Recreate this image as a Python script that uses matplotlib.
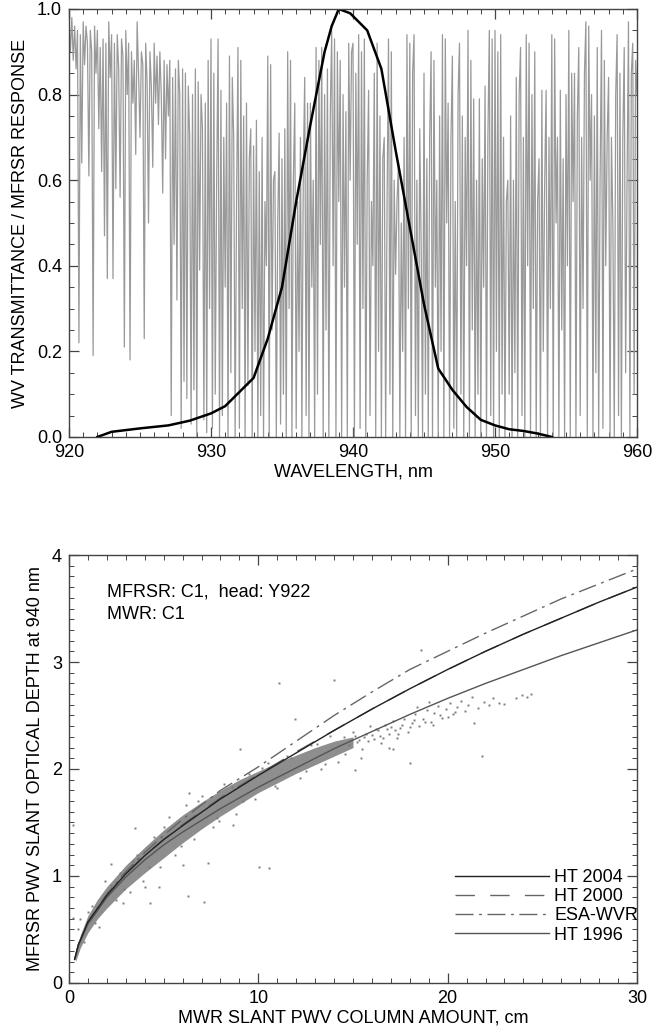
import matplotlib
matplotlib.use("Agg")
import matplotlib.pyplot as plt
from matplotlib.ticker import MultipleLocator, FormatStrFormatter
import numpy as np

plt.rcParams['font.family'] = ['Liberation Sans', 'DejaVu Sans']
plt.rcParams['font.size'] = 13

# ---- top panel: water vapour transmittance, sampled every 0.1 nm from 920 nm
t_920 = [0.97, 0.90, 0.98, 0.88, 0.96, 0.86, 0.95, 0.22, 0.94, 0.64,
         0.97, 0.87, 0.96, 0.92, 0.61, 0.95, 0.90, 0.19, 0.96, 0.85,
         0.95, 0.72, 0.91, 0.62, 0.93, 0.47, 0.92, 0.37, 0.97, 0.84,
         0.94, 0.37, 0.92, 0.58, 0.94, 0.86, 0.56, 0.93, 0.89, 0.21,
         0.95, 0.80, 0.92, 0.18, 0.90, 0.78, 0.88, 0.66, 0.97, 0.85,
         0.70, 0.90, 0.87, 0.23, 0.92, 0.83, 0.50, 0.90, 0.82, 0.63,
         0.92, 0.78, 0.89, 0.73, 0.90, 0.80, 0.57, 0.88, 0.65, 0.87,
         0.75, 0.88, 0.05, 0.84, 0.45, 0.86, 0.32, 0.88, 0.80, 0.02,
         0.86, 0.13, 0.85, 0.09, 0.82, 0.70, 0.03, 0.80, 0.11, 0.86,
         0.00, 0.83, 0.39, 0.80, 0.72, 0.04, 0.78, 0.01, 0.88, 0.30]
t_930 = [0.93, 0.02, 0.85, 0.10, 0.60, 0.93, 0.00, 0.81, 0.05, 0.70,
         0.35, 0.78, 0.00, 0.89, 0.15, 0.84, 0.70, 0.00, 0.55, 0.91,
         0.02, 0.88, 0.30, 0.75, 0.00, 0.78, 0.12, 0.65, 0.72, 0.00,
         0.68, 0.20, 0.74, 0.00, 0.62, 0.05, 0.70, 0.00, 0.55, 0.40,
         0.89, 0.00, 0.87, 0.25, 0.60, 0.62, 0.00, 0.50, 0.71, 0.03,
         0.65, 0.10, 0.72, 0.00, 0.90, 0.30, 0.88, 0.00, 0.60, 0.78,
         0.02, 0.55, 0.20, 0.70, 0.00, 0.62, 0.84, 0.05, 0.78, 0.00,
         0.78, 0.35, 0.60, 0.00, 0.91, 0.10, 0.88, 0.45, 0.91, 0.00,
         0.80, 0.25, 0.86, 0.00, 0.75, 0.95, 0.40, 0.93, 0.00, 0.90,
         0.55, 0.88, 0.00, 0.80, 0.35, 0.76, 0.00, 0.92, 0.60, 0.90]
t_940 = [0.92, 0.00, 0.85, 0.45, 0.94, 0.02, 0.90, 0.30, 0.93, 0.00,
         0.60, 0.81, 0.05, 0.55, 0.40, 0.85, 0.00, 0.92, 0.20, 0.75,
         0.00, 0.65, 0.70, 0.00, 0.55, 0.93, 0.10, 0.90, 0.00, 0.60,
         0.38, 0.55, 0.64, 0.00, 0.50, 0.20, 0.70, 0.00, 0.94, 0.30,
         0.92, 0.00, 0.85, 0.94, 0.05, 0.60, 0.00, 0.72, 0.45, 0.00,
         0.85, 0.10, 0.65, 0.00, 0.70, 0.90, 0.00, 0.88, 0.35, 0.60,
         0.00, 0.75, 0.20, 0.94, 0.00, 0.93, 0.50, 0.78, 0.00, 0.70,
         0.89, 0.02, 0.55, 0.00, 0.80, 0.92, 0.10, 0.75, 0.00, 0.70,
         0.40, 0.95, 0.00, 0.88, 0.25, 0.79, 0.00, 0.60, 0.10, 0.79,
         0.00, 0.65, 0.35, 0.82, 0.00, 0.70, 0.95, 0.05, 0.93, 0.00]
t_950 = [0.95, 0.20, 0.90, 0.00, 0.94, 0.10, 0.70, 0.00, 0.55, 0.60,
         0.10, 0.75, 0.00, 0.60, 0.15, 0.84, 0.00, 0.80, 0.91, 0.05,
         0.70, 0.00, 0.94, 0.40, 0.92, 0.00, 0.80, 0.30, 0.90, 0.00,
         0.55, 0.65, 0.00, 0.81, 0.20, 0.60, 0.81, 0.00, 0.70, 0.30,
         0.94, 0.00, 0.93, 0.50, 0.70, 0.00, 0.81, 0.25, 0.65, 0.00,
         0.80, 0.40, 0.95, 0.00, 0.85, 0.55, 0.85, 0.00, 0.75, 0.91,
         0.05, 0.70, 0.30, 0.85, 0.97, 0.00, 0.96, 0.60, 0.80, 0.00,
         0.75, 0.15, 0.91, 0.00, 0.60, 0.95, 0.02, 0.88, 0.40, 0.70,
         0.84, 0.00, 0.70, 0.50, 0.00, 0.80, 0.94, 0.05, 0.85, 0.00,
         0.70, 0.91, 0.15, 0.60, 0.97, 0.00, 0.85, 0.92, 0.10, 0.88]
t_960 = [0.80]

# MFRSR 940 nm channel response
resp_wl = [922.0, 923.0, 925.0, 927.0, 928.5, 930.0, 931.0, 932.0, 933.0,
           934.0, 935.0, 936.0, 937.0, 938.0, 938.5, 939.0, 939.8, 941.0,
           942.0, 943.0, 944.0, 945.0, 946.0, 947.0, 948.0, 949.0, 950.0,
           951.0, 952.0, 953.0, 954.0]
resp = [0.0, 0.012, 0.02, 0.027, 0.038, 0.055, 0.072, 0.105, 0.138,
        0.23, 0.35, 0.55, 0.73, 0.90, 0.96, 1.0, 0.99, 0.95,
        0.86, 0.67, 0.49, 0.31, 0.16, 0.11, 0.07, 0.04, 0.027,
        0.018, 0.014, 0.008, 0.0]

# ---- bottom panel: slant optical depth vs slant PWV
fit_x = [0.3, 0.5, 1, 2, 3, 4, 5, 6, 8, 10, 12, 14, 16, 18, 20, 22, 24, 26, 28, 30]
ht2004 = [0.22, 0.36, 0.57, 0.82, 1.02, 1.19, 1.34, 1.47, 1.72, 1.94, 2.15,
          2.36, 2.56, 2.75, 2.93, 3.10, 3.26, 3.41, 3.56, 3.70]
ht2000 = [0.22, 0.36, 0.57, 0.82, 1.02, 1.19, 1.34, 1.48, 1.73, 1.95, 2.16,
          2.36, 2.56, 2.75, 2.93, 3.10, 3.26, 3.41, 3.56, 3.70]
esa_wvr = [0.22, 0.36, 0.57, 0.83, 1.04, 1.22, 1.38, 1.53, 1.80, 2.02, 2.26,
           2.50, 2.72, 2.93, 3.10, 3.27, 3.43, 3.59, 3.73, 3.87]
ht1996 = [0.22, 0.35, 0.55, 0.80, 0.99, 1.15, 1.29, 1.41, 1.63, 1.83, 2.01,
          2.19, 2.35, 2.51, 2.66, 2.80, 2.93, 3.06, 3.18, 3.30]

# dense core of the scatter cloud
band_x = [0.35, 0.6, 1.0, 1.5, 2.0, 3.0, 4.0, 5.0, 6.0, 7.0, 8.0, 9.0, 10.0,
          11.0, 12.0, 13.0, 14.0, 15.0]
band_lo = [0.20, 0.33, 0.47, 0.60, 0.70, 0.88, 1.03, 1.17, 1.31, 1.44, 1.56,
           1.67, 1.78, 1.87, 1.96, 2.04, 2.12, 2.20]
band_hi = [0.30, 0.45, 0.63, 0.78, 0.90, 1.10, 1.27, 1.43, 1.57, 1.69, 1.80,
           1.90, 1.98, 2.06, 2.13, 2.20, 2.26, 2.30]

# individual points (sparse tail, fuzzy edges and outliers)
pts_x = [11.1, 14.0, 18.6, 9.05, 11.96, 6.36, 15.1, 17.1, 18.0, 21.4, 21.8,
         10.04, 10.56, 6.27, 7.15, 4.73, 4.03, 2.83, 4.26, 7.32, 2.24, 3.47,
         0.23, 0.2, 8.64, 7.94, 6.0, 0.58,
         14.5, 14.8, 15.0, 15.3, 15.5, 15.7, 15.9, 16.1, 16.3, 16.5, 16.7,
         16.9, 17.1, 17.3, 17.5, 17.7, 17.9, 18.1, 18.3, 18.5, 18.7, 18.9,
         19.1, 19.3, 19.5, 19.7, 19.9, 20.1, 20.3, 20.5, 20.7, 20.9, 21.1,
         21.3, 21.6, 21.9, 22.2, 22.4, 22.7, 23.0, 23.6, 23.9, 24.2, 24.4,
         16.9, 19.0, 18.4, 15.4, 13.5,
         15.2, 15.6, 16.0, 16.4, 16.8, 17.2, 17.6, 18.0, 18.8, 19.6, 20.4,
         15.1, 15.8, 16.2, 16.6, 17.0, 17.4, 18.2, 19.2, 20.0,
         0.5, 0.8, 1.2, 1.6, 1.9, 2.5, 2.7, 3.2, 3.6, 3.9, 4.5, 4.8, 5.3,
         5.6, 6.2, 6.6, 7.0, 7.6, 8.2, 8.8, 9.5, 9.8, 10.5, 11.0, 11.5,
         12.2, 12.8, 13.3, 13.8, 14.2,
         1.0, 1.4, 2.2, 2.9, 3.4, 4.2, 5.0, 5.9, 6.8, 7.8, 8.6, 9.2, 10.2,
         10.9, 11.7, 12.5, 13.1, 14.6]
pts_y = [2.80, 2.83, 3.11, 2.19, 2.47, 1.78, 1.99, 2.19, 2.06, 2.43, 2.12,
         1.08, 1.07, 0.81, 0.76, 0.90, 0.90, 0.75, 0.75, 1.12, 1.11, 1.45,
         1.48, 0.61, 1.48, 1.51, 1.10, 0.60,
         2.30, 2.22, 2.35, 2.27, 2.19, 2.33, 2.40, 2.28, 2.36, 2.24, 2.41,
         2.33, 2.45, 2.29, 2.38, 2.47, 2.35, 2.43, 2.51, 2.40, 2.47, 2.55,
         2.44, 2.52, 2.59, 2.48, 2.56, 2.62, 2.51, 2.58, 2.64, 2.54, 2.60,
         2.67, 2.57, 2.63, 2.60, 2.66, 2.62, 2.61, 2.66, 2.69, 2.67, 2.70,
         2.20, 2.63, 2.58, 2.10, 2.05,
         2.25, 2.30, 2.32, 2.31, 2.37, 2.36, 2.41, 2.39, 2.44, 2.50, 2.53,
         2.31, 2.26, 2.37, 2.29, 2.39, 2.33, 2.46, 2.41, 2.49,
         0.50, 0.38, 0.72, 0.52, 0.95, 0.78, 1.03, 0.85, 1.20, 0.95, 1.36,
         1.08, 1.55, 1.20, 1.66, 1.35, 1.75, 1.46, 1.86, 1.58, 1.95, 1.72,
         2.06, 1.82, 2.12, 1.92, 2.22, 2.00, 2.31, 2.07,
         0.66, 0.56, 0.92, 0.88, 1.14, 1.08, 1.46, 1.28, 1.70, 1.54, 1.83,
         1.70, 2.01, 1.84, 2.10, 1.98, 2.23, 2.14]

spine_col = '#444444'

fig = plt.figure(figsize=(6.52, 10.32), dpi=100)
ax1 = fig.add_axes([0.1058, 0.5766, 0.8712, 0.4147])
ax2 = fig.add_axes([0.1058, 0.0475, 0.8712, 0.4147])

trans = np.array(t_920 + t_930 + t_940 + t_950 + t_960)
wl = 920 + 0.1 * np.arange(len(trans))
ax1.plot(wl, trans, color='#999999', lw=0.9)
ax1.plot(resp_wl, resp, color='black', lw=1.8)
ax1.set_xlim(920, 960)
ax1.set_ylim(0, 1.0)
ax1.xaxis.set_major_locator(MultipleLocator(10))
ax1.xaxis.set_minor_locator(MultipleLocator(1))
ax1.yaxis.set_major_locator(MultipleLocator(0.2))
ax1.yaxis.set_minor_locator(MultipleLocator(0.05))
ax1.yaxis.set_major_formatter(FormatStrFormatter('%.1f'))
ax1.set_xlabel('WAVELENGTH, nm', labelpad=2)
ax1.set_ylabel('WV TRANSMITTANCE / MFRSR RESPONSE', labelpad=6)

ax2.fill_between(band_x, band_lo, band_hi, color='#8e8e8e', lw=0)
ax2.plot(pts_x, pts_y, ls='none', marker='s', ms=1.4, color='#7a7a7a', mew=0)
l96, = ax2.plot(fit_x, ht1996, color='#555555', lw=1.0)
lesa, = ax2.plot(fit_x, esa_wvr, color='#666666', lw=1.0, dashes=(13, 4, 2, 4))
l00, = ax2.plot(fit_x, ht2000, color='#666666', lw=1.0, dashes=(14, 11))
l04, = ax2.plot(fit_x, ht2004, color='#222222', lw=1.0)
ax2.set_xlim(0, 30)
ax2.set_ylim(0, 4)
ax2.xaxis.set_major_locator(MultipleLocator(10))
ax2.xaxis.set_minor_locator(MultipleLocator(1))
ax2.yaxis.set_major_locator(MultipleLocator(1))
ax2.yaxis.set_minor_locator(MultipleLocator(0.1))
ax2.set_xlabel('MWR SLANT PWV COLUMN AMOUNT, cm', labelpad=2)
ax2.set_ylabel('MFRSR PWV SLANT OPTICAL DEPTH at 940 nm', labelpad=6)
ax2.text(0.067, 0.913, 'MFRSR: C1,  head: Y922', transform=ax2.transAxes,
         va='center', ha='left')
ax2.text(0.067, 0.862, 'MWR: C1', transform=ax2.transAxes,
         va='center', ha='left')
ax2.legend([l04, l00, lesa, l96], ['HT 2004', 'HT 2000', 'ESA-WVR', 'HT 1996'],
           loc='lower right', bbox_to_anchor=(1.015, 0.075), frameon=False,
           handlelength=5.2, handletextpad=0.3, labelspacing=0.12,
           borderaxespad=0.0)

for ax in (ax1, ax2):
    for s in ax.spines.values():
        s.set_color(spine_col)
        s.set_linewidth(1.0)
    ax.tick_params(which='both', direction='in', top=True, right=True,
                   color=spine_col)
    ax.tick_params(which='major', length=7, width=0.9, pad=5)
    ax.tick_params(which='minor', length=3.5, width=0.7)

fig.savefig('out.png', dpi=100)
